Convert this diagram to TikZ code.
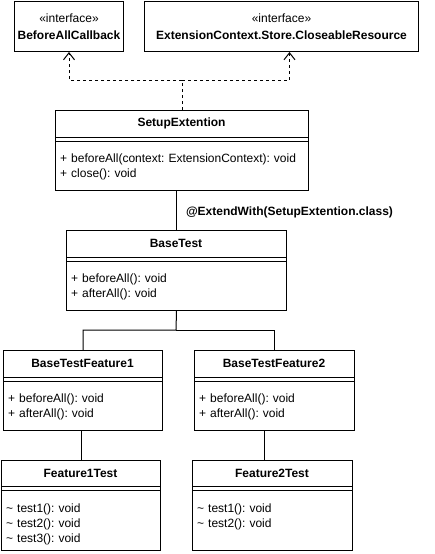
\documentclass[tikz,border=0pt]{standalone}
\usepackage{fontspec}
\setmainfont{Liberation Sans}
\usetikzlibrary{arrows.meta}
\frenchspacing

\tikzset{
  classbox/.style={draw=black, line width=1pt, rectangle, inner sep=0pt, anchor=north west},
  classname/.style={font=\fontsize{12}{15}\selectfont\bfseries, inner sep=0pt},
  stereo/.style={font=\fontsize{12}{16.5}\selectfont, align=center, inner sep=0pt},
  members/.style={font=\fontsize{12}{15}\selectfont, inner sep=0pt, anchor=base west, text width=#1, align=left},
  members/.default=150pt,
  realize/.style={draw=black, line width=1pt, dash pattern=on 3pt off 3pt, -{Straight Barb[length=7pt,width=11pt]}},
  assoc/.style={draw=black, line width=1pt},
}

\begin{document}
\begin{tikzpicture}[x=1pt,y=-1pt]
\useasboundingbox (0,0) rectangle (435,554);

% interfaces
\node[classbox, minimum width=109pt, minimum height=50pt] (bac) at (14,1) {};
\node[stereo] (bacname) at (bac.center) {«interface»\\\textbf{BeforeAllCallback}};
\node[classbox, minimum width=274pt, minimum height=50pt] (ecr) at (144,1) {};
\node[stereo] (ecrname) at (ecr.center) {«interface»\\\textbf{ExtensionContext.Store.CloseableResource}};

% SetupExtention
\node[classbox, minimum width=253pt, minimum height=80pt] (setup) at (55,110) {};
\node[classname] (setupname) at (181.5,123.5) {SetupExtention};
\draw[assoc] ([yshift=-27pt]setup.north west) -- ([yshift=-27pt]setup.north east);
\draw[assoc] ([yshift=-31pt]setup.north west) -- ([yshift=-31pt]setup.north east);
\node[members=245pt] (setupops) at (60,162) {+ beforeAll(context: ExtensionContext): void\\+ close(): void};

% BaseTest
\node[classbox, minimum width=220pt, minimum height=80pt] (base) at (66,230) {};
\node[classname] (basename) at (176,243.5) {BaseTest};
\draw[assoc] ([yshift=-27pt]base.north west) -- ([yshift=-27pt]base.north east);
\draw[assoc] ([yshift=-31pt]base.north west) -- ([yshift=-31pt]base.north east);
\node[members] (baseops) at (71,282) {+ beforeAll(): void\\+ afterAll(): void};

% features
\node[classbox, minimum width=159pt, minimum height=80pt] (btf1) at (3,350) {};
\node[classname] (btf1name) at (82.5,363.5) {BaseTestFeature1};
\draw[assoc] ([yshift=-27pt]btf1.north west) -- ([yshift=-27pt]btf1.north east);
\draw[assoc] ([yshift=-31pt]btf1.north west) -- ([yshift=-31pt]btf1.north east);
\node[members] (btf1ops) at (8,402) {+ beforeAll(): void\\+ afterAll(): void};

\node[classbox, minimum width=160pt, minimum height=80pt] (btf2) at (194,350) {};
\node[classname] (btf2name) at (274,363.5) {BaseTestFeature2};
\draw[assoc] ([yshift=-27pt]btf2.north west) -- ([yshift=-27pt]btf2.north east);
\draw[assoc] ([yshift=-31pt]btf2.north west) -- ([yshift=-31pt]btf2.north east);
\node[members] (btf2ops) at (199,402) {+ beforeAll(): void\\+ afterAll(): void};

% tests
\node[classbox, minimum width=159pt, minimum height=90pt] (f1) at (1,460) {};
\node[classname] (f1name) at (80.5,473.5) {Feature1Test};
\draw[assoc] ([yshift=-26pt]f1.north west) -- ([yshift=-26pt]f1.north east);
\draw[assoc] ([yshift=-30pt]f1.north west) -- ([yshift=-30pt]f1.north east);
\node[members] (f1ops) at (6,512) {\textasciitilde{} test1(): void\\\textasciitilde{} test2(): void\\\textasciitilde{} test3(): void};

\node[classbox, minimum width=160pt, minimum height=90pt] (f2) at (192,460) {};
\node[classname] (f2name) at (272,473.5) {Feature2Test};
\draw[assoc] ([yshift=-26pt]f2.north west) -- ([yshift=-26pt]f2.north east);
\draw[assoc] ([yshift=-30pt]f2.north west) -- ([yshift=-30pt]f2.north east);
\node[members] (f2ops) at (197,512) {\textasciitilde{} test1(): void\\\textasciitilde{} test2(): void};

% connectors
\coordinate (split) at (182,80);
\draw[realize] (setup.north) -- (split) -| (bac.south);
\draw[realize] (split) -| ([xshift=8pt]ecr.south);
\draw[assoc] (base.north |- setup.south) -- (base.north)
  node[pos=0.55, anchor=west, font=\fontsize{12}{15}\selectfont\bfseries, inner sep=0pt, xshift=9pt] (extlabel) {@ExtendWith(SetupExtention.class)};
\coordinate (fork) at (176,330);
\draw[assoc] (base.south) -- (fork) -| (btf1.north);
\draw[assoc] (fork) -| (btf2.north);
\draw[assoc] (f1.north |- btf1.south) -- (f1.north);
\draw[assoc] ([xshift=-8pt]f2.north |- btf2.south) -- ([xshift=-8pt]f2.north);

\end{tikzpicture}
\end{document}
